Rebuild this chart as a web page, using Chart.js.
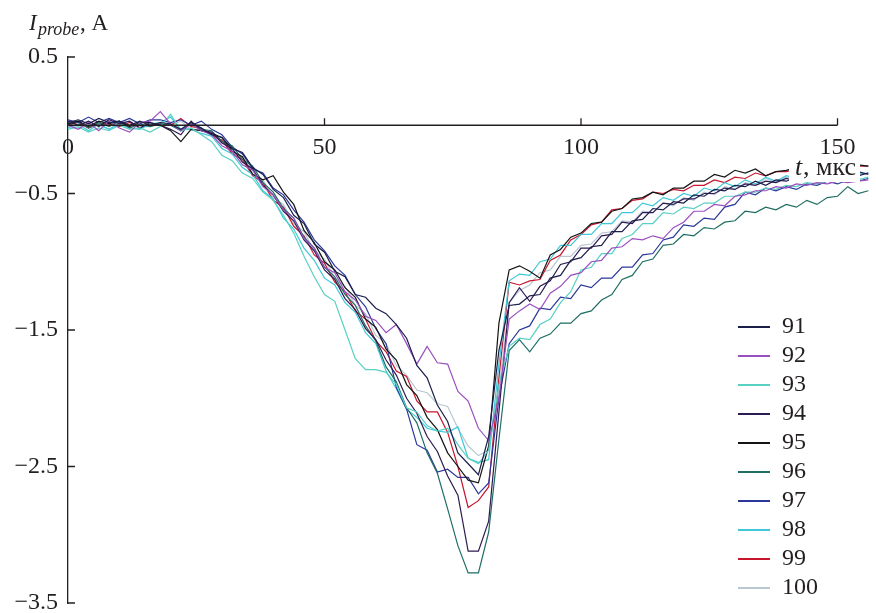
<!DOCTYPE html>
<html><head><meta charset="utf-8">
<script src="https://cdn.jsdelivr.net/npm/chart.js@4.4.1/dist/chart.umd.min.js"></script>
<style>html,body{margin:0;padding:0;background:#fff;}#wrap{width:876px;height:613px;}</style>
</head><body><div id="wrap"><canvas id="c" width="876" height="613"></canvas></div>
<script>
// time axis, microseconds
const times = [0,2,4,6,8,10,12,14,16,18,20,22,24,26,28,30,32,34,36,38,40,42,44,46,48,50,52,54,56,58,60,62,64,66,68,70,72,74,76,78,80,82,84,86,88,90,92,94,96,98,100,102,104,106,108,110,112,114,116,118,120,122,124,126,128,130,132,134,136,138,140,142,144,146,148,150,152,154,156];

const seriesNames = ['91','92','93','94','95','96','97','98','99','100'];

const s91 = [0.02,0.04,0.01,0.05,0.02,0.03,0.00,0.03,0.00,0.02,
 0.01,-0.03,0.02,-0.02,-0.07,-0.09,-0.17,-0.20,-0.31,-0.36,
 -0.47,-0.53,-0.66,-0.72,-0.87,-0.93,-1.07,-1.11,-1.24,-1.26,
 -1.34,-1.38,-1.46,-1.56,-1.76,-1.85,-2.05,-2.17,-2.40,-2.48,
 -2.56,-2.28,-1.65,-1.32,-1.31,-1.25,-1.24,-1.12,-1.10,-0.99,
 -0.97,-0.89,-0.88,-0.78,-0.78,-0.70,-0.69,-0.61,-0.62,-0.56,
 -0.57,-0.51,-0.52,-0.47,-0.48,-0.44,-0.45,-0.41,-0.44,-0.40,
 -0.41,-0.38,-0.41,-0.37,-0.38,-0.35,-0.38,-0.34,-0.36];

const s92 = [0.00,-0.03,0.02,-0.04,0.03,-0.02,-0.05,0.02,0.03,0.10,
 0.01,-0.04,0.01,-0.04,-0.07,-0.15,-0.19,-0.29,-0.33,-0.45,
 -0.51,-0.62,-0.68,-0.83,-0.90,-1.04,-1.08,-1.22,-1.28,-1.40,
 -1.43,-1.52,-1.46,-1.60,-1.75,-1.62,-1.74,-1.75,-1.95,-2.02,
 -2.22,-2.31,-2.00,-1.42,-1.36,-1.31,-1.35,-1.23,-1.18,-1.10,
 -1.08,-1.00,-0.99,-0.90,-0.89,-0.83,-0.84,-0.81,-0.83,-0.75,
 -0.71,-0.63,-0.63,-0.58,-0.59,-0.52,-0.51,-0.48,-0.48,-0.45,
 -0.46,-0.43,-0.44,-0.42,-0.43,-0.41,-0.42,-0.41,-0.40];

const s93 = [-0.03,-0.01,-0.05,-0.02,-0.04,0.00,-0.03,-0.02,-0.05,-0.01,
 0.08,-0.04,-0.02,-0.07,-0.12,-0.22,-0.26,-0.35,-0.39,-0.49,
 -0.55,-0.66,-0.79,-0.96,-1.11,-1.24,-1.29,-1.50,-1.71,-1.79,
 -1.79,-1.81,-1.90,-2.07,-2.10,-2.20,-2.24,-2.22,-2.34,-2.44,
 -2.48,-2.38,-1.90,-1.62,-1.56,-1.57,-1.46,-1.42,-1.30,-1.22,
 -1.06,-1.04,-0.94,-0.94,-0.83,-0.80,-0.72,-0.72,-0.64,-0.65,
 -0.60,-0.61,-0.57,-0.57,-0.52,-0.52,-0.49,-0.49,-0.46,-0.47,
 -0.44,-0.45,-0.42,-0.43,-0.41,-0.41,-0.39,-0.40,-0.38];

const s94 = [0.03,0.00,0.03,-0.01,0.04,0.01,0.03,-0.02,0.02,0.00,
 -0.03,-0.07,0.03,-0.04,-0.05,-0.13,-0.17,-0.27,-0.32,-0.44,
 -0.51,-0.63,-0.70,-0.84,-0.92,-1.06,-1.13,-1.27,-1.35,-1.49,
 -1.57,-1.72,-1.83,-2.00,-2.11,-2.28,-2.39,-2.57,-2.71,-3.12,
 -3.12,-2.90,-2.10,-1.30,-1.19,-1.29,-1.18,-1.14,-1.02,-1.00,
 -0.90,-0.90,-0.81,-0.80,-0.71,-0.72,-0.64,-0.64,-0.57,-0.58,
 -0.54,-0.54,-0.50,-0.50,-0.46,-0.47,-0.43,-0.44,-0.41,-0.42,
 -0.39,-0.41,-0.38,-0.39,-0.36,-0.38,-0.35,-0.37,-0.35];

const s95 = [0.01,0.03,-0.01,0.03,0.01,0.03,-0.01,0.02,0.02,0.00,
 -0.04,-0.12,-0.03,-0.04,-0.06,-0.09,-0.19,-0.23,-0.36,-0.40,
 -0.37,-0.49,-0.58,-0.77,-0.86,-1.00,-1.06,-1.19,-1.26,-1.42,
 -1.48,-1.64,-1.72,-1.90,-1.98,-2.14,-2.23,-2.40,-2.50,-2.60,
 -2.62,-2.35,-1.45,-1.06,-1.03,-1.07,-1.12,-0.95,-0.91,-0.82,
 -0.79,-0.72,-0.71,-0.63,-0.61,-0.54,-0.53,-0.49,-0.51,-0.46,
 -0.46,-0.41,-0.41,-0.36,-0.38,-0.33,-0.35,-0.32,-0.37,-0.34,
 -0.33,-0.31,-0.33,-0.30,-0.32,-0.29,-0.31,-0.29,-0.30];

const s96 = [0.00,0.03,-0.02,0.02,-0.01,0.03,-0.02,0.01,-0.01,0.01,
 0.00,-0.04,0.02,-0.03,-0.04,-0.12,-0.15,-0.25,-0.30,-0.42,
 -0.49,-0.61,-0.68,-0.82,-0.90,-1.04,-1.11,-1.24,-1.32,-1.47,
 -1.58,-1.77,-1.88,-2.07,-2.18,-2.40,-2.55,-2.81,-3.08,-3.28,
 -3.28,-2.98,-2.30,-1.65,-1.57,-1.66,-1.56,-1.53,-1.45,-1.45,
 -1.38,-1.36,-1.28,-1.24,-1.13,-1.10,-1.00,-0.98,-0.88,-0.87,
 -0.80,-0.81,-0.75,-0.76,-0.71,-0.70,-0.63,-0.64,-0.60,-0.62,
 -0.58,-0.60,-0.55,-0.58,-0.53,-0.52,-0.45,-0.50,-0.48];

const s97 = [0.04,0.02,0.06,0.02,0.05,0.02,0.05,0.01,0.04,0.04,
 0.02,0.04,0.00,0.03,-0.03,-0.07,-0.16,-0.21,-0.32,-0.35,
 -0.46,-0.51,-0.62,-0.71,-0.84,-0.92,-1.03,-1.10,-1.24,-1.33,
 -1.49,-1.60,-1.92,-2.08,-2.34,-2.38,-2.54,-2.52,-2.58,-2.58,
 -2.70,-2.62,-2.00,-1.60,-1.50,-1.47,-1.34,-1.35,-1.26,-1.27,
 -1.17,-1.19,-1.12,-1.12,-1.04,-1.04,-0.95,-0.94,-0.84,-0.82,
 -0.73,-0.74,-0.68,-0.69,-0.60,-0.58,-0.49,-0.51,-0.46,-0.48,
 -0.45,-0.47,-0.43,-0.44,-0.41,-0.43,-0.40,-0.41,-0.39];

const s98 = [-0.02,0.01,-0.04,0.01,-0.03,0.01,-0.02,-0.03,0.01,0.02,
 0.06,-0.03,-0.03,-0.06,-0.08,-0.17,-0.21,-0.31,-0.36,-0.48,
 -0.54,-0.68,-0.76,-0.90,-0.99,-1.12,-1.17,-1.30,-1.37,-1.52,
 -1.60,-1.80,-1.93,-2.08,-2.14,-2.22,-2.24,-2.25,-2.21,-2.44,
 -2.47,-2.45,-1.75,-1.14,-1.09,-1.10,-1.00,-0.98,-0.88,-0.88,
 -0.80,-0.80,-0.72,-0.72,-0.64,-0.64,-0.57,-0.59,-0.53,-0.55,
 -0.50,-0.52,-0.46,-0.48,-0.42,-0.45,-0.40,-0.43,-0.38,-0.41,
 -0.37,-0.39,-0.36,-0.38,-0.35,-0.37,-0.34,-0.36,-0.35];

const s99 = [0.00,0.02,-0.02,0.01,0.01,-0.01,0.02,-0.02,0.01,0.01,
 0.00,0.05,-0.01,-0.02,-0.07,-0.11,-0.21,-0.25,-0.37,-0.42,
 -0.55,-0.60,-0.74,-0.81,-0.95,-1.01,-1.15,-1.22,-1.36,-1.42,
 -1.58,-1.66,-1.80,-1.84,-2.02,-2.10,-2.10,-2.25,-2.50,-2.80,
 -2.75,-2.65,-1.85,-1.15,-1.17,-1.14,-1.13,-0.99,-0.95,-0.84,
 -0.80,-0.73,-0.71,-0.62,-0.61,-0.55,-0.54,-0.49,-0.50,-0.47,
 -0.48,-0.44,-0.44,-0.40,-0.42,-0.38,-0.39,-0.35,-0.37,-0.34,
 -0.34,-0.32,-0.33,-0.30,-0.32,-0.29,-0.31,-0.30,-0.30];

const s100 = [0.01,-0.02,0.03,0.00,-0.03,0.02,0.03,-0.01,-0.01,0.02,
 0.00,0.03,-0.03,-0.03,-0.08,-0.11,-0.20,-0.24,-0.36,-0.40,
 -0.53,-0.58,-0.72,-0.78,-0.92,-0.98,-1.12,-1.18,-1.32,-1.38,
 -1.54,-1.60,-1.76,-1.83,-1.94,-1.96,-2.04,-2.06,-2.22,-2.35,
 -2.42,-2.38,-1.95,-1.30,-1.21,-1.17,-1.08,-1.06,-0.96,-0.96,
 -0.88,-0.87,-0.79,-0.78,-0.70,-0.71,-0.63,-0.64,-0.57,-0.59,
 -0.53,-0.55,-0.49,-0.51,-0.45,-0.47,-0.42,-0.44,-0.39,-0.42,
 -0.38,-0.40,-0.37,-0.38,-0.35,-0.37,-0.34,-0.36,-0.35];

const xTickVals = [0, 50, 100, 150];
const yTickVals = [0.5, -0.5, -1.5, -2.5, -3.5];

const seriesValues = [s91, s92, s93, s94, s95, s96, s97, s98, s99, s100];
const seriesColors = ['#1c1f4c','#9a4fc0','#58d0c2','#2d1b52','#141414','#1f6e63','#2b3799','#3ec8da','#c8162f','#b8c8d3'];

const AXIS = '#231f20';
const FONT = 'Liberation Serif';

const datasets = seriesNames.map((name, k) => ({
  label: name,
  data: seriesValues[k].map((v, i) => ({x: times[i], y: v})),
  borderColor: seriesColors[k],
  backgroundColor: seriesColors[k],
  borderWidth: 1.2,
  pointRadius: 0,
  tension: 0
}));

const fmt = v => (v < 0 ? '\u2212' + Math.abs(v).toFixed(1) : v.toFixed(1));

const decor = {
  id: 'decor',
  afterLayout(chart) {
    const lg = chart.legend;
    if (!lg) return;
    const w = lg.width;
    lg.left = 733; lg.top = 310; lg.right = 733 + w; lg.bottom = 613;
    lg.height = lg.bottom - lg.top;
  },
  afterDraw(chart) {
    const {ctx, chartArea} = chart;
    const xs = chart.scales.x, ys = chart.scales.y;
    ctx.save();
    ctx.strokeStyle = AXIS;
    ctx.lineWidth = 1.3;
    const y0 = ys.getPixelForValue(0);
    ctx.beginPath();
    ctx.moveTo(xs.getPixelForValue(0), y0);
    ctx.lineTo(xs.getPixelForValue(150), y0);
    xTickVals.forEach(v => {
      if (v === 0) return;
      const px = xs.getPixelForValue(v);
      ctx.moveTo(px, y0); ctx.lineTo(px, y0 - 7);
    });
    yTickVals.forEach(v => {
      const py = ys.getPixelForValue(v);
      ctx.moveTo(chartArea.left, py); ctx.lineTo(chartArea.left + 7, py);
    });
    ctx.stroke();

    // unit label of the time axis, with white background
    ctx.fillStyle = '#fff';
    ctx.fillRect(789, 156, 71, 26);
    ctx.fillStyle = AXIS;
    ctx.textAlign = 'left';
    ctx.textBaseline = 'alphabetic';
    ctx.font = 'italic 26px "' + FONT + '"';
    ctx.fillText('t', 795, 175);
    ctx.font = '26px "' + FONT + '"';
    ctx.fillText(', мкс', 803, 175);

    // current axis title
    ctx.font = 'italic 23px "' + FONT + '"';
    ctx.fillText('I', 29, 30);
    ctx.font = 'italic 18px "' + FONT + '"';
    ctx.fillText('probe', 38, 35);
    ctx.font = '23px "' + FONT + '"';
    ctx.fillText(', A', 80, 30);
    ctx.restore();
  }
};

new Chart(document.getElementById('c'), {
  type: 'line',
  data: { datasets },
  options: {
    responsive: false,
    animation: false,
    devicePixelRatio: 1,
    layout: { padding: { top: 57, right: 0, bottom: 10, left: 0 } },
    plugins: {
      tooltip: { enabled: false },
      title: { display: false },
      legend: {
        display: true,
        position: 'chartArea',
        align: 'start',
        labels: {
          font: { family: FONT, size: 24 },
          color: AXIS,
          boxWidth: 32,
          boxHeight: 2,
          padding: 5,
          generateLabels: (chart) => Chart.defaults.plugins.legend.labels.generateLabels(chart).map(l => Object.assign(l, { lineWidth: 0 }))
        }
      }
    },
    scales: {
      x: {
        type: 'linear', min: 0, max: 157.5,
        position: { y: 0 },
        grid: { display: false, drawTicks: false },
        border: { display: false },
        ticks: { autoSkip: false, maxRotation: 0, padding: 8, font: { family: FONT, size: 24 }, color: AXIS, callback: v => String(v) },
        afterBuildTicks: s => { s.ticks = xTickVals.map(v => ({ value: v })); },
        afterFit: s => { s.height = 0; s.paddingLeft = 0; s.paddingRight = 0; }
      },
      y: {
        type: 'linear', min: -3.5, max: 0.5,
        position: 'left',
        grid: { display: false, drawTicks: false },
        border: { display: true, color: AXIS, width: 1.3 },
        ticks: { padding: 10, font: { family: FONT, size: 24 }, color: AXIS, callback: v => fmt(v) },
        afterBuildTicks: s => { s.ticks = yTickVals.map(v => ({ value: v })); },
        afterFit: s => { s.width = 68; s.paddingTop = 0; s.paddingBottom = 0; }
      }
    }
  },
  plugins: [decor]
});
</script></body></html>
